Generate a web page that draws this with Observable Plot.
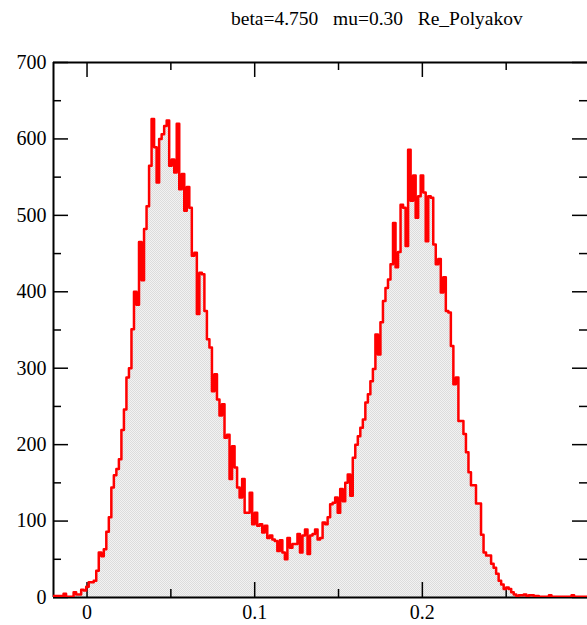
<!DOCTYPE html>
<html><head><meta charset="utf-8">
<script src="https://cdn.jsdelivr.net/npm/d3@7"></script>
<script src="https://cdn.jsdelivr.net/npm/@observablehq/plot@0.6"></script>
<style>
body{margin:0;background:#fff;width:587px;height:625px;overflow:hidden;font-family:"Liberation Serif",serif}
#title{height:40px;position:relative;}
#title span{position:absolute;left:231px;top:8px;font-size:19.5px;line-height:22px;white-space:pre;color:#000}
#chart svg{display:block}
#chart svg text{font-family:"Liberation Serif",serif !important;font-size:20px !important;fill:#000}
</style></head><body>
<div id="title"><span>beta=4.750   mu=0.30   Re_Polyakov</span></div>
<div id="chart"></div>
<script>
const titleText = "beta=4.750   mu=0.30   Re_Polyakov";
const binStart = -0.02;
const binWidth = 0.0015;
const counts = [
  2,2,2,2,5,1,1,1,7,4,
  4,10,9,14,20,20,22,35,59,54,
  63,86,105,144,160,168,181,219,246,288,
  300,351,400,383,465,415,482,512,565,626,
  589,543,600,606,617,624,565,573,556,620,
  534,554,506,537,510,447,451,371,425,423,
  375,338,327,270,292,259,238,253,209,213,
  155,198,170,144,131,155,111,111,137,96,
  111,94,96,85,94,78,81,76,74,61,
  75,59,50,78,65,70,70,83,59,81,
  89,57,81,83,89,76,78,98,96,105,
  122,124,131,111,142,126,150,161,133,183,
  200,211,222,233,255,266,283,299,344,318,
  360,388,405,416,436,490,432,452,514,510,
  460,586,519,552,497,525,552,530,466,525,
  523,462,436,443,399,419,375,373,329,279,
  288,231,231,214,190,164,147,147,123,123,
  82,59,55,55,44,39,31,22,17,11,
  13,11,7,4,2,3,3,4,2,3,
  3,2,2,1,1,1,1,3,1,1,
  1,1,1,1,1,1,3,1,1,1,
  1,1,1
];
const xDomain = [-0.02, 0.2985];
const yDomain = [0, 700];
const xMajor = [0, 0.1, 0.2];
const xMinor = [0.05, 0.15, 0.25];
const yMajor = [0, 100, 200, 300, 400, 500, 600, 700];
const yMinor = [50, 150, 250, 350, 450, 550, 650];

const W = 587, H = 585, mL = 53, mR = 0, mT = 22, mB = 28;
const fw = W - mL - mR, fh = H - mT - mB;
const majLen = 15, minLen = 8;

const pts = counts.map((c, i) => ({x: binStart + i * binWidth, y: c}));
pts.push({x: binStart + counts.length * binWidth, y: counts[counts.length - 1]});

const tk = {stroke: "#000", strokeWidth: 1.5};
const chart = Plot.plot({
  width: W, height: H,
  marginLeft: mL, marginRight: mR, marginTop: mT, marginBottom: mB,
  style: {fontFamily: "'Liberation Serif', serif", fontSize: "20px", background: "white", color: "#000"},
  x: {domain: xDomain},
  y: {domain: yDomain},
  marks: [
    Plot.areaY(pts, {x: "x", y: "y", curve: "step-after", fill: "url(#stip)", clip: true}),
    Plot.tickX(xMajor, {x: d => d, insetTop: fh - majLen, ...tk}),
    Plot.tickX(xMinor, {x: d => d, insetTop: fh - minLen, ...tk}),
    Plot.tickX(xMajor, {x: d => d, insetBottom: fh - majLen, ...tk}),
    Plot.tickX(xMinor, {x: d => d, insetBottom: fh - minLen, ...tk}),
    Plot.tickY(yMajor, {y: d => d, insetRight: fw - majLen, ...tk}),
    Plot.tickY(yMinor, {y: d => d, insetRight: fw - minLen, ...tk}),
    Plot.tickY(yMajor, {y: d => d, insetLeft: fw - majLen, ...tk}),
    Plot.tickY(yMinor, {y: d => d, insetLeft: fw - minLen, ...tk}),
    Plot.ruleY([yDomain[0], yDomain[1]], {stroke: "#000", strokeWidth: 2}),
    Plot.ruleX([xDomain[0]], {stroke: "#000", strokeWidth: 2}),
    Plot.lineY(pts, {x: "x", y: "y", curve: "step-after", stroke: "#ff0000", strokeWidth: 2.5, clip: true}),
    Plot.axisY(yMajor, {tickSize: 0, tickPadding: 7, fontSize: 20, label: null}),
    Plot.axisX(xMajor, {tickSize: 0, tickPadding: 7, fontSize: 20, label: null, tickFormat: d => String(d)})
  ]
});

const svg = d3.select(chart);
const defs = svg.insert("defs", ":first-child");
const pat = defs.append("pattern").attr("id", "stip").attr("width", 2).attr("height", 2).attr("patternUnits", "userSpaceOnUse");
pat.append("rect").attr("width", 2).attr("height", 2).attr("fill", "#f2f2f2");
pat.append("rect").attr("x", 0).attr("y", 0).attr("width", 1).attr("height", 1).attr("fill", "#dcdcdc");
pat.append("rect").attr("x", 1).attr("y", 1).attr("width", 1).attr("height", 1).attr("fill", "#dcdcdc");
document.getElementById("chart").appendChild(chart);
</script>
</body></html>
